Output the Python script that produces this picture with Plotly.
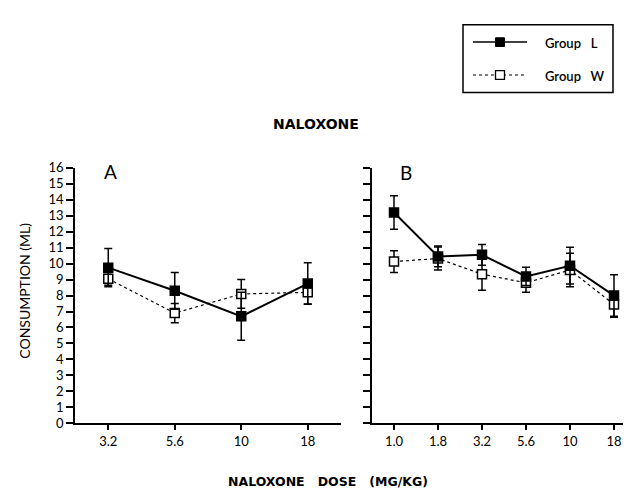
import plotly.graph_objects as go

doses_a = ["3.2", "5.6", "10", "18"]
L_a = [9.75, 8.3, 6.7, 8.75]
L_a_err = [1.2, 1.15, 1.5, 1.3]
W_a = [9.05, 6.9, 8.1, 8.2]
W_a_err = [0.4, 0.6, 0.9, 0.73]

doses_b = ["1.0", "1.8", "3.2", "5.6", "10", "18"]
L_b = [13.2, 10.45, 10.55, 9.2, 9.87, 8.0]
L_b_err = [1.05, 0.65, 0.65, 0.57, 1.15, 1.3]
W_b = [10.13, 10.32, 9.34, 8.8, 9.6, 7.44]
W_b_err = [0.68, 0.72, 1.0, 0.6, 1.05, 0.8]

yticks = list(range(0, 17))

FONT = "Lato"
W, H = 631, 490

fig = go.Figure()

def add_series(x, y, err, xa, name, filled):
    fig.add_trace(go.Scatter(
        x=list(range(len(x))), y=y, xaxis=xa, yaxis="y" if xa == "x" else "y2",
        mode="lines+markers", name=name, showlegend=False,
        line=dict(color="black", width=2 if filled else 1.2, dash="solid" if filled else "dot"),
        marker=dict(symbol="square", size=9, color="black" if filled else "white",
                    line=dict(color="black", width=1.5)),
        error_y=dict(type="data", array=err, visible=True, color="black", thickness=1.5, width=4),
    ))

add_series(doses_a, W_a, W_a_err, "x", "Group W", False)
add_series(doses_a, L_a, L_a_err, "x", "Group L", True)
add_series(doses_b, W_b, W_b_err, "x2", "Group W", False)
add_series(doses_b, L_b, L_b_err, "x2", "Group L", True)

y0 = (H - 421) / H
y1 = (H - 157) / H

axis_common = dict(showgrid=False, zeroline=False, showline=True, linecolor="black", linewidth=1.5,
                   ticks="outside", ticklen=5, tickwidth=1.5, tickcolor="black",
                   tickfont=dict(family=FONT, size=13, color="black"))

def px(x):
    return x / W

def py(y):
    return 1 - y / H

shapes = [
    dict(type="rect", xref="paper", yref="paper", x0=px(455), x1=px(605), y0=py(9), y1=py(79),
         line=dict(color="black", width=1.5), fillcolor="white"),
    dict(type="line", xref="paper", yref="paper", x0=px(465), x1=px(519), y0=py(27), y1=py(27),
         line=dict(color="black", width=1.5)),
    dict(type="rect", xref="paper", yref="paper", x0=px(487.5), x1=px(496.5), y0=py(22.5), y1=py(31.5),
         line=dict(color="black", width=1), fillcolor="black"),
    dict(type="line", xref="paper", yref="paper", x0=px(465), x1=px(519), y0=py(61), y1=py(61),
         line=dict(color="black", width=1, dash="dot")),
    dict(type="rect", xref="paper", yref="paper", x0=px(487.5), x1=px(496.5), y0=py(56.5), y1=py(65.5),
         line=dict(color="black", width=1.3), fillcolor="white"),
]

sp = "\u00a0"

fig.update_layout(
    width=W, height=H,
    margin=dict(l=0, r=0, t=0, b=0),
    paper_bgcolor="white", plot_bgcolor="white",
    font=dict(family=FONT, color="black"),
    xaxis=dict(domain=[67 / W, 333 / W], range=[-0.5, 3.5], tickvals=list(range(len(doses_a))),
               ticktext=doses_a, anchor="y", **axis_common),
    xaxis2=dict(domain=[364 / W, 628 / W], range=[-0.5, 5.5], tickvals=list(range(len(doses_b))),
                ticktext=doses_b, anchor="y2", **axis_common),
    yaxis=dict(domain=[y0, y1], range=[0, 16], tickvals=yticks, anchor="x",
               **{**axis_common, "ticklen": 7}),
    yaxis2=dict(domain=[y0, y1], range=[0, 16], tickvals=yticks, showticklabels=False, anchor="x2",
                **{**axis_common, "ticklen": 7}),
    shapes=shapes,
    annotations=[
        dict(text="Group" + sp * 3 + "L", x=px(535), y=py(28), xref="paper", yref="paper", showarrow=False,
             font=dict(family=FONT, size=13, weight=600), xanchor="left", yanchor="middle"),
        dict(text="Group" + sp * 3 + "W", x=px(535), y=py(62), xref="paper", yref="paper", showarrow=False,
             font=dict(family=FONT, size=13, weight=600), xanchor="left", yanchor="middle"),
        dict(text="<b>NALOXONE</b>", x=px(308), y=py(112), xref="paper", yref="paper",
             showarrow=False, font=dict(family="DejaVu Sans", size=14), xanchor="center", yanchor="middle"),
        dict(text="A", x=px(102), y=py(161), xref="paper", yref="paper", showarrow=False,
             font=dict(family=FONT, size=19), xanchor="center", yanchor="middle"),
        dict(text="B", x=px(398), y=py(162), xref="paper", yref="paper", showarrow=False,
             font=dict(family=FONT, size=19), xanchor="center", yanchor="middle"),
        dict(text="CONSUMPTION (ML)", x=px(17), y=py(284), xref="paper", yref="paper", showarrow=False,
             textangle=-90, font=dict(family=FONT, size=14), xanchor="center", yanchor="middle"),
        dict(text="<b>NALOXONE" + sp * 3 + "DOSE" + sp * 3 + "(MG/KG)</b>", x=px(320), y=py(481), xref="paper",
             yref="paper", showarrow=False, font=dict(family="DejaVu Sans", size=12.5),
             xanchor="center", yanchor="middle"),
    ],
)

fig.write_html("out.html")
